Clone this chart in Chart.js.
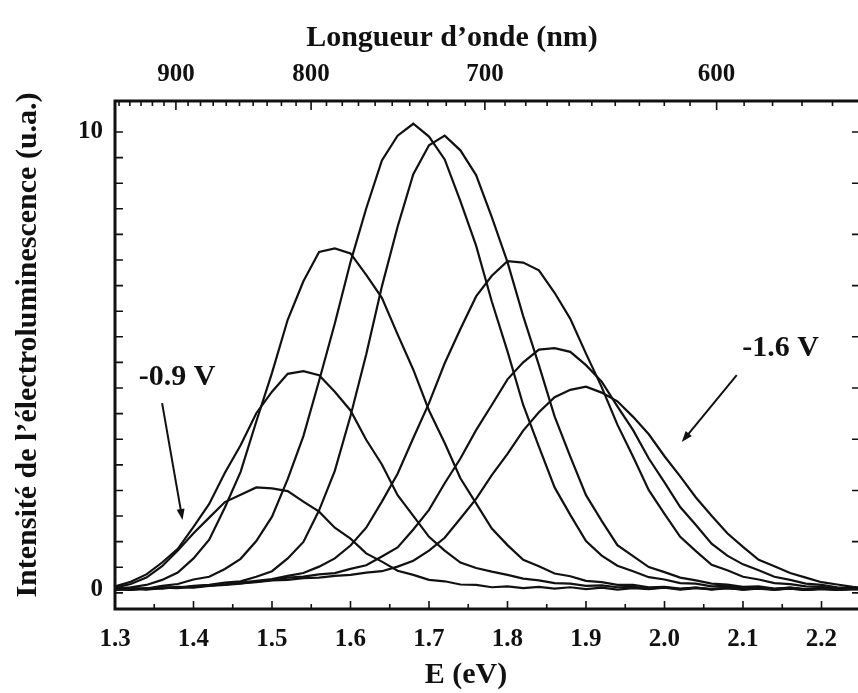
<!DOCTYPE html>
<html>
<head>
<meta charset="utf-8">
<script src="https://cdn.jsdelivr.net/npm/chart.js@4.4.1/dist/chart.umd.min.js"></script>
<style>
    html, body { margin: 0; padding: 0; background: #fff; }
</style>
</head>
<body>
<canvas id="el-chart" width="858" height="693"></canvas>
<script>
// photon energy (eV) of every sample
const energies = [1.30, 1.32, 1.34, 1.36, 1.38, 1.40, 1.42, 1.44, 1.46, 1.48,
    1.50, 1.52, 1.54, 1.56, 1.58, 1.60, 1.62, 1.64, 1.66, 1.68,
    1.70, 1.72, 1.74, 1.76, 1.78, 1.80, 1.82, 1.84, 1.86, 1.88,
    1.90, 1.92, 1.94, 1.96, 1.98, 2.00, 2.02, 2.04, 2.06, 2.08,
    2.10, 2.12, 2.14, 2.16, 2.18, 2.20, 2.22, 2.24, 2.26];

// electroluminescence spectra, from -0.9 V (first) to -1.6 V (last)
const spectrum1 = [0.05, 0.13, 0.27, 0.52, 0.86, 1.24, 1.58, 1.92, 2.08, 2.24,
    2.22, 2.16, 1.93, 1.71, 1.36, 1.12, 0.80, 0.62, 0.42, 0.33,
    0.22, 0.19, 0.12, 0.11, 0.06, 0.08, 0.04, 0.07, 0.03, 0.06,
    0.02, 0.05, 0.01, 0.04, 0.02, 0.05, 0.01, 0.04, 0.02, 0.05,
    0.01, 0.03, 0.00, 0.04, 0.01, 0.03, 0.00, 0.02, 0.01];
const spectrum2 = [0.08, 0.18, 0.34, 0.60, 0.90, 1.38, 1.88, 2.56, 3.16, 3.86,
    4.33, 4.72, 4.78, 4.69, 4.33, 3.92, 3.28, 2.74, 2.07, 1.62,
    1.16, 0.86, 0.60, 0.48, 0.40, 0.33, 0.25, 0.21, 0.15, 0.14,
    0.09, 0.10, 0.06, 0.07, 0.03, 0.06, 0.02, 0.05, 0.01, 0.04,
    0.02, 0.05, 0.01, 0.03, 0.00, 0.03, 0.01, 0.02, 0.00];
const spectrum3 = [0.03, 0.06, 0.11, 0.22, 0.38, 0.69, 1.10, 1.80, 2.58, 3.68,
    4.74, 5.90, 6.74, 7.38, 7.46, 7.35, 6.88, 6.38, 5.58, 4.81,
    3.92, 3.21, 2.44, 1.89, 1.34, 0.98, 0.66, 0.52, 0.36, 0.30,
    0.20, 0.17, 0.11, 0.11, 0.06, 0.07, 0.03, 0.05, 0.02, 0.04,
    0.01, 0.04, 0.02, 0.03, 0.00, 0.02, 0.01, 0.03, 0.01];
const spectrum4 = [0.02, 0.04, 0.03, 0.09, 0.13, 0.23, 0.29, 0.46, 0.68, 1.07,
    1.60, 2.42, 3.36, 4.57, 5.82, 7.16, 8.33, 9.38, 9.92, 10.18,
    9.90, 9.40, 8.49, 7.52, 6.30, 5.21, 4.04, 3.13, 2.24, 1.64,
    1.07, 0.75, 0.53, 0.41, 0.28, 0.23, 0.15, 0.14, 0.08, 0.09,
    0.04, 0.06, 0.02, 0.05, 0.01, 0.04, 0.02, 0.03, 0.01];
const spectrum5 = [0.01, 0.04, 0.02, 0.06, 0.05, 0.09, 0.11, 0.16, 0.19, 0.29,
    0.41, 0.69, 1.05, 1.74, 2.60, 3.80, 5.14, 6.63, 7.93, 9.08,
    9.71, 9.92, 9.60, 9.06, 8.14, 7.16, 5.98, 4.91, 3.79, 2.91,
    2.07, 1.51, 0.98, 0.74, 0.50, 0.39, 0.27, 0.21, 0.14, 0.12,
    0.07, 0.08, 0.03, 0.05, 0.02, 0.04, 0.01, 0.03, 0.02];
const spectrum6 = [0.02, 0.00, 0.04, 0.03, 0.07, 0.06, 0.10, 0.12, 0.16, 0.20,
    0.24, 0.31, 0.37, 0.51, 0.69, 0.97, 1.36, 1.93, 2.54, 3.32,
    4.08, 4.95, 5.70, 6.41, 6.86, 7.18, 7.15, 6.98, 6.49, 5.92,
    5.16, 4.43, 3.61, 2.91, 2.18, 1.66, 1.16, 0.85, 0.55, 0.43,
    0.29, 0.23, 0.15, 0.13, 0.08, 0.07, 0.03, 0.04, 0.02];
const spectrum7 = [0.00, 0.03, 0.01, 0.04, 0.06, 0.05, 0.09, 0.11, 0.14, 0.18,
    0.22, 0.27, 0.29, 0.34, 0.37, 0.46, 0.54, 0.73, 0.93, 1.32,
    1.75, 2.33, 2.87, 3.49, 4.04, 4.60, 4.97, 5.25, 5.28, 5.20,
    4.91, 4.55, 4.01, 3.49, 2.87, 2.35, 1.81, 1.42, 1.01, 0.75,
    0.56, 0.43, 0.29, 0.22, 0.14, 0.11, 0.06, 0.05, 0.02];
const spectrum8 = [0.02, 0.00, 0.03, 0.05, 0.04, 0.08, 0.10, 0.12, 0.15, 0.17,
    0.21, 0.22, 0.26, 0.27, 0.31, 0.33, 0.38, 0.41, 0.51, 0.64,
    0.86, 1.14, 1.56, 1.99, 2.51, 2.97, 3.48, 3.88, 4.21, 4.37,
    4.44, 4.31, 4.12, 3.78, 3.40, 2.92, 2.48, 2.02, 1.62, 1.24,
    0.94, 0.66, 0.52, 0.37, 0.27, 0.17, 0.12, 0.07, 0.04];

const spectra = [spectrum1, spectrum2, spectrum3, spectrum4, spectrum5, spectrum6, spectrum7, spectrum8];

// tick labels
const energyTicks = [1.3, 1.4, 1.5, 1.6, 1.7, 1.8, 1.9, 2.0, 2.1, 2.2];
const wavelengthTicks = [900, 800, 700, 600];
const intensityTicks = [0, 10];

const HC = 1239.84; // eV.nm
const SERIF = "'Liberation Serif', 'Times New Roman', serif";
const INK = '#111';

const X_MIN = 1.3, X_MAX = 2.2465;
const Y_MIN = -0.415, Y_MAX = 10.677;

const datasets = spectra.map((values, i) => ({
    label: 'spectre ' + (i + 1),
    data: energies.map((e, j) => ({ x: e, y: values[j] })),
    borderColor: INK,
    borderWidth: 2.2,
    pointRadius: 0,
    tension: 0,
    fill: false
}));

// frame, inward tick marks, axis titles and the two voltage notes
const decorations = {
    id: 'decorations',
    afterDatasetsDraw(chart) {
        const { ctx, chartArea: a, scales } = chart;
        const xs = scales.x, ys = scales.y;
        ctx.save();
        ctx.strokeStyle = INK;
        ctx.fillStyle = INK;

        // frame (right side sits outside the picture)
        ctx.lineWidth = 3;
        ctx.beginPath();
        ctx.moveTo(a.right + 2, a.top);
        ctx.lineTo(a.left, a.top);
        ctx.lineTo(a.left, a.bottom);
        ctx.lineTo(a.right + 2, a.bottom);
        ctx.stroke();

        ctx.lineWidth = 1.6;
        ctx.beginPath();
        // bottom: every 0.05 eV
        for (let k = 0; k <= 18; k++) {
            const px = xs.getPixelForValue(1.3 + k * 0.05);
            const len = k % 2 === 0 ? 8 : 5;
            ctx.moveTo(px, a.bottom);
            ctx.lineTo(px, a.bottom - len);
        }
        // top: every 10 nm
        for (let lambda = 950; lambda >= 560; lambda -= 10) {
            const e = HC / lambda;
            if (e <= X_MIN || e >= X_MAX) continue;
            const px = xs.getPixelForValue(e);
            const len = lambda % 100 === 0 ? 9 : 5;
            ctx.moveTo(px, a.top);
            ctx.lineTo(px, a.top + len);
        }
        // left and right
        for (let k = 0; 10 - k * 0.559 > Y_MIN + 0.2; k++) {
            const py = ys.getPixelForValue(10 - k * 0.559);
            ctx.moveTo(a.left, py);
            ctx.lineTo(a.left + 8, py);
            if (k % 2 === 0) {
                ctx.moveTo(a.right, py);
                ctx.lineTo(a.right - 6, py);
            }
        }
        ctx.stroke();

        // axis titles
        ctx.font = 'bold 30px ' + SERIF;
        ctx.textAlign = 'center';
        ctx.textBaseline = 'alphabetic';
        ctx.fillText('Longueur d\u2019onde (nm)', 452, 46);
        ctx.fillText('E (eV)', 466, 683);
        ctx.save();
        ctx.translate(36, 345);
        ctx.rotate(-Math.PI / 2);
        ctx.fillText('Intensit\u00e9 de l\u2019\u00e9lectroluminescence (u.a.)', 0, 0);
        ctx.restore();

        // voltage notes with arrows, in data coordinates
        const notes = [
            { text: '-0.9 V', at: [1.379, 4.65], from: [1.360, 4.08], to: [1.386, 1.53] },
            { text: '-1.6 V', at: [2.148, 5.28], from: [2.092, 4.69], to: [2.022, 3.23] }
        ];
        notes.forEach(n => {
            ctx.textBaseline = 'middle';
            ctx.fillText(n.text, xs.getPixelForValue(n.at[0]), ys.getPixelForValue(n.at[1]));
            const x0 = xs.getPixelForValue(n.from[0]), y0 = ys.getPixelForValue(n.from[1]);
            const x1 = xs.getPixelForValue(n.to[0]), y1 = ys.getPixelForValue(n.to[1]);
            const ang = Math.atan2(y1 - y0, x1 - x0);
            ctx.lineWidth = 2;
            ctx.beginPath();
            ctx.moveTo(x0, y0);
            ctx.lineTo(x1 - 8 * Math.cos(ang), y1 - 8 * Math.sin(ang));
            ctx.stroke();
            ctx.beginPath();
            ctx.moveTo(x1, y1);
            ctx.lineTo(x1 - 11 * Math.cos(ang) + 4 * Math.sin(ang), y1 - 11 * Math.sin(ang) - 4 * Math.cos(ang));
            ctx.lineTo(x1 - 11 * Math.cos(ang) - 4 * Math.sin(ang), y1 - 11 * Math.sin(ang) + 4 * Math.cos(ang));
            ctx.closePath();
            ctx.fill();
        });
        ctx.restore();
    }
};

const tickFont = { family: SERIF, weight: 'bold', size: 25 };

new Chart(document.getElementById('el-chart'), {
    type: 'line',
    data: { datasets },
    plugins: [decorations],
    options: {
        responsive: false,
        animation: false,
        layout: { padding: 0 },
        plugins: { legend: { display: false }, tooltip: { enabled: false } },
        scales: {
            x: {
                type: 'linear', position: 'bottom', min: X_MIN, max: X_MAX,
                grid: { display: false }, border: { display: false },
                afterBuildTicks: s => { s.ticks = energyTicks.map(v => ({ value: v })); },
                afterFit: s => { s.height = 84; },
                ticks: { font: tickFont, color: INK, padding: 8, maxRotation: 0, autoSkip: false,
                    callback: v => Number(v).toFixed(1) }
            },
            xTop: {
                type: 'linear', position: 'top', min: X_MIN, max: X_MAX,
                grid: { display: false }, border: { display: false },
                afterBuildTicks: s => { s.ticks = wavelengthTicks.map(l => ({ value: HC / l })); },
                afterFit: s => { s.height = 101; },
                ticks: { font: tickFont, color: INK, padding: 3, maxRotation: 0, autoSkip: false,
                    callback: v => String(Math.round(HC / v)) }
            },
            y: {
                type: 'linear', position: 'left', min: Y_MIN, max: Y_MAX,
                grid: { display: false }, border: { display: false },
                afterBuildTicks: s => { s.ticks = intensityTicks.map(v => ({ value: v })); },
                afterFit: s => { s.width = 115; },
                ticks: { font: tickFont, color: INK, padding: 4 }
            }
        }
    }
});
</script>
</body>
</html>
